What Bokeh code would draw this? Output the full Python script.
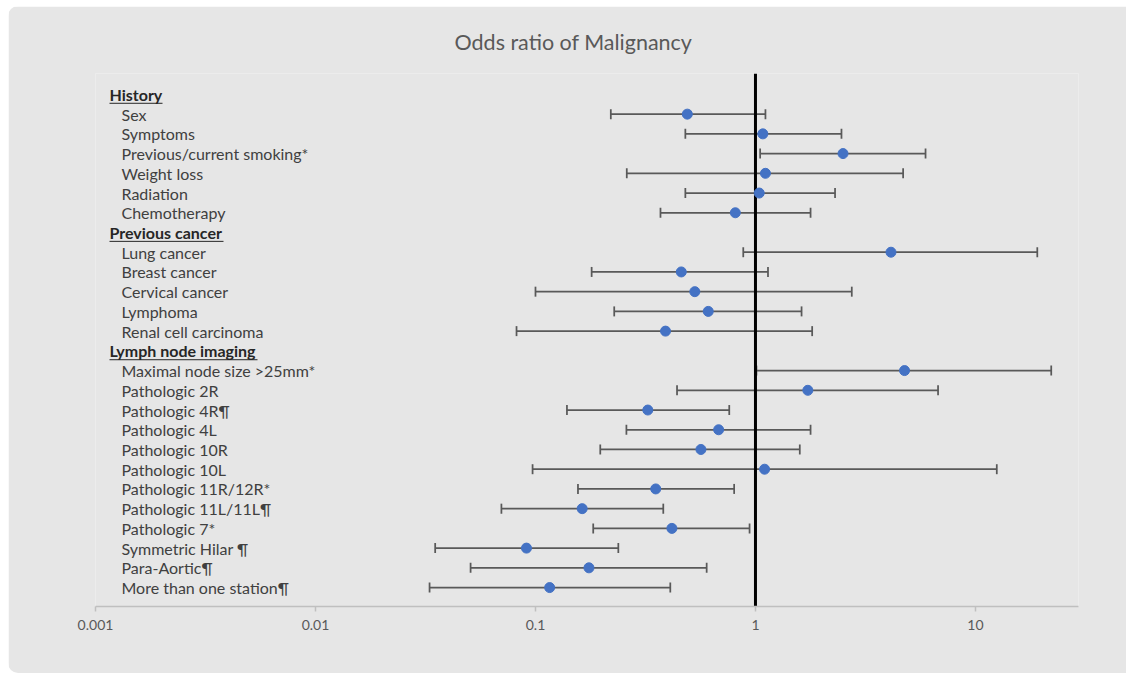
import math
from bokeh.plotting import figure
from bokeh.models import Range1d, FixedTicker, ColumnDataSource, Whisker, TeeHead, Span
from bokeh.core.properties import value
from bokeh.embed import file_html
from bokeh.resources import INLINE

# ---------------- data ----------------
title_text = "Odds ratio of Malignancy"
headers = ["History", "Previous cancer", "Lymph node imaging"]
labels = [
    "History", "Sex", "Symptoms", "Previous/current smoking*", "Weight loss", "Radiation", "Chemotherapy",
    "Previous cancer", "Lung cancer", "Breast cancer", "Cervical cancer", "Lymphoma", "Renal cell carcinoma",
    "Lymph node imaging", "Maximal node size >25mm*", "Pathologic 2R", "Pathologic 4R¶", "Pathologic 4L",
    "Pathologic 10R", "Pathologic 10L", "Pathologic 11R/12R*", "Pathologic 11L/11L¶", "Pathologic 7*",
    "Symmetric Hilar ¶", "Para-Aortic¶", "More than one station¶",
]
odds_ratio = [None, 0.49, 1.08, 2.50, 1.11, 1.04, 0.81,
              None, 4.13, 0.46, 0.53, 0.61, 0.39,
              None, 4.76, 1.73, 0.324, 0.68, 0.565, 1.10, 0.352, 0.163, 0.417, 0.091, 0.175, 0.116]
ci_lower = [None, 0.22, 0.48, 1.05, 0.26, 0.48, 0.37,
            None, 0.88, 0.18, 0.10, 0.228, 0.082,
            None, 1.01, 0.44, 0.139, 0.259, 0.197, 0.097, 0.156, 0.070, 0.183, 0.035, 0.0507, 0.033]
ci_upper = [None, 1.11, 2.46, 5.93, 4.69, 2.30, 1.78,
            None, 19.1, 1.14, 2.74, 1.62, 1.81,
            None, 22.1, 6.76, 0.76, 1.78, 1.59, 12.5, 0.80, 0.381, 0.94, 0.238, 0.60, 0.41]
x_ticks = [0.001, 0.01, 0.1, 1, 10]
x_tick_labels = ["0.001", "0.01", "0.1", "1", "10"]
reference_line = 1

# ---------------- layout constants ----------------
X_START, X_END = 0.001, 29.4
FIG_W, FIG_H = 1118, 667
FRAME_LEFT, FRAME_RIGHT_PAD = 87, 48
FRAME_TOP_PAD, FRAME_BOTTOM_PAD = 67, 67
frame_w = FIG_W - FRAME_LEFT - FRAME_RIGHT_PAD
px_per_decade = frame_w / math.log10(X_END / X_START)

BG = "#E6E6E6"
FONT = "Lato"

n = len(labels)
rows_y = [n - i for i in range(n)]

item_idx = [i for i, l in enumerate(labels) if l not in headers]
head_idx = [i for i, l in enumerate(labels) if l in headers]

src = ColumnDataSource(dict(
    y=[rows_y[i] for i in item_idx],
    orv=[odds_ratio[i] for i in item_idx],
    lo=[ci_lower[i] for i in item_idx],
    hi=[ci_upper[i] for i in item_idx],
    lab=[labels[i] for i in item_idx],
    x0=[X_START] * len(item_idx),
))
hsrc = ColumnDataSource(dict(
    y=[rows_y[i] for i in head_idx],
    lab=[labels[i] for i in head_idx],
    x0=[X_START] * len(head_idx),
))

p = figure(width=FIG_W, height=FIG_H, x_axis_type="log",
           x_range=Range1d(X_START, X_END), y_range=Range1d(0.04, n + 1.06),
           output_backend="svg", toolbar_location=None, y_axis_location=None,
           min_border_left=FRAME_LEFT, min_border_right=FRAME_RIGHT_PAD,
           min_border_top=FRAME_TOP_PAD, min_border_bottom=FRAME_BOTTOM_PAD)
p.styles = {"margin-left": "8px", "margin-top": "6px",
            "border-radius": "10px 0px 0px 10px", "overflow": "hidden"}
p.background_fill_color = BG
p.border_fill_color = BG
p.outline_line_color = None
p.xgrid.visible = False
p.ygrid.visible = False

p.title.text = title_text
p.title.align = "left"
p.title.offset = 359
p.title.text_font = FONT
p.title.text_font_size = "21.5px"
p.title.text_font_style = "normal"
p.title.text_color = "#595959"
p.title.standoff = 37

ax = p.xaxis[0]
ax.ticker = FixedTicker(ticks=x_ticks)
ax.major_label_overrides = {t: l for t, l in zip(x_ticks, x_tick_labels)}
ax.minor_tick_line_color = None
ax.axis_line_color = "#BFBFBF"
ax.axis_line_width = 1.5
ax.major_tick_line_color = "#BFBFBF"
ax.major_tick_line_width = 1.5
ax.major_tick_in = 0
ax.major_tick_out = 5
ax.major_label_standoff = 8
ax.major_label_text_font = FONT
ax.major_label_text_font_size = "14px"
ax.major_label_text_color = "#595959"

# error bars
wc = "#595959"
wh = Whisker(source=src, base="y", lower="lo", upper="hi", dimension="width",
             line_color=wc, line_width=1.75, level="underlay",
             lower_head=TeeHead(size=10, line_color=wc, line_width=1.75),
             upper_head=TeeHead(size=10, line_color=wc, line_width=1.75))
p.add_layout(wh)

span = Span(location=reference_line, dimension="height", line_color="black",
            line_width=3, level="underlay")
p.add_layout(span)

p.scatter(x="orv", y="y", source=src, size=10, fill_color="#4472C4",
          line_color="#4472C4")

# row labels
p.text(x="x0", y="y", text="lab", source=src, x_offset=26, text_baseline="middle",
       text_align="left", text_font=value(FONT), text_font_size="16px",
       text_color="#404040")
p.text(x="x0", y="y", text="lab", source=hsrc, x_offset=14, text_baseline="middle",
       text_align="left", text_font=value(FONT), text_font_size="16px",
       text_font_style="bold", text_color="#262626")

# underline of group headers
head_w = [53, 114, 148]
ul = ColumnDataSource(dict(
    x0=[X_START * 10 ** (14 / px_per_decade)] * len(head_idx),
    x1=[X_START * 10 ** ((14 + w) / px_per_decade) for w in head_w],
    y=[rows_y[i] - 0.45 for i in head_idx],
))
p.segment(x0="x0", y0="y", x1="x1", y1="y", source=ul, line_color="#262626", line_width=1)

open("out.html", "w").write(file_html(p, INLINE))
